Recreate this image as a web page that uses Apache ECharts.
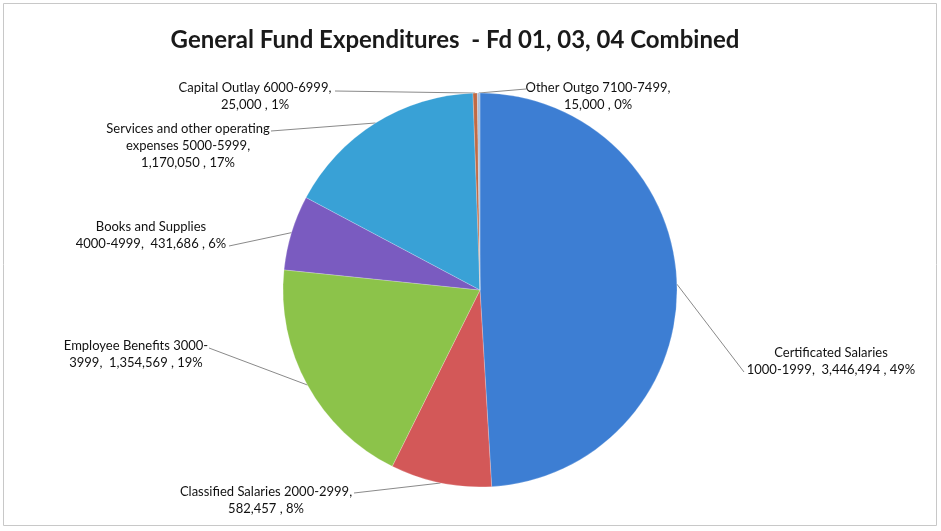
<!DOCTYPE html>
<html>
<head>
<meta charset="utf-8">
<script src="https://cdn.jsdelivr.net/npm/echarts@6/dist/echarts.min.js"></script>
<style>
html,body{margin:0;padding:0;background:#fff;}
#chart{width:941px;height:531px;}
</style>
</head>
<body>
<div id="chart"></div>
<script>
const titleText = 'General Fund Expenditures  - Fd 01, 03, 04 Combined';
const categories = [
  'Certificated Salaries 1000-1999',
  'Classified Salaries 2000-2999',
  'Employee Benefits 3000-3999',
  'Books and Supplies 4000-4999',
  'Services and other operating expenses 5000-5999',
  'Capital Outlay 6000-6999',
  'Other Outgo 7100-7499'
];
const values = [3446494, 582457, 1354569, 431686, 1170050, 25000, 15000];
const percentLabels = ['49%', '8%', '19%', '6%', '17%', '1%', '0%'];
const labelTexts = [
  'Certificated Salaries\n1000-1999,  3,446,494 , 49%',
  'Classified Salaries 2000-2999,\n582,457 , 8%',
  'Employee Benefits 3000-\n3999,  1,354,569 , 19%',
  'Books and Supplies\n4000-4999,  431,686 , 6%',
  'Services and other operating\nexpenses 5000-5999,\n1,170,050 , 17%',
  'Capital Outlay 6000-6999,\n25,000 , 1%',
  'Other Outgo 7100-7499,\n15,000 , 0%'
];
const colors = ['#3d7ed3', '#d35858', '#8cc34a', '#7a5bc0', '#39a1d6', '#c06a45', '#a9c0dc'];

// label placement (layout only): centre of text block and leader end point
const labelPlace = [
  {x: 831, y: 361, ex: 744, ey: 372},
  {x: 266, y: 500, ex: 354, ey: 493},
  {x: 136, y: 354, ex: 209, ey: 348},
  {x: 151, y: 235, ex: 229, ey: 246},
  {x: 188, y: 146, ex: 271, ey: 131},
  {x: 255, y: 96,  ex: 335, ey: 91},
  {x: 598, y: 96,  ex: 526, ey: 89}
];

const chart = echarts.init(document.getElementById('chart'));
chart.setOption({
  backgroundColor: '#ffffff',
  animation: false,
  title: {
    text: titleText,
    left: 450, top: 23, textAlign: 'center',
    textStyle: {fontFamily: 'Lato', fontWeight: 'bold', fontSize: 24, color: '#1a1a1a'}
  },
  graphic: [{
    type: 'rect', shape: {x: 3.5, y: 3.5, width: 933, height: 522},
    style: {fill: 'none', stroke: '#c8c8c8', lineWidth: 1}, silent: true
  }],
  series: [{
    type: 'pie',
    center: [480, 290],
    radius: 197,
    startAngle: 90,
    clockwise: true,
    avoidLabelOverlap: false,
    data: categories.map((c, i) => ({name: c, value: values[i], itemStyle: {color: colors[i]}})),
    itemStyle: {borderColor: 'rgba(255,255,255,0.35)', borderWidth: 0.6},
    label: {
      show: true,
      formatter: p => labelTexts[p.dataIndex],
      fontFamily: 'Lato', fontSize: 13, color: '#111', lineHeight: 17, align: 'center'
    },
    labelLine: {show: true, length: 10, length2: 10, lineStyle: {color: '#8a8a8a', width: 1}},
    labelLayout: function (params) {
      const lp = labelPlace[params.dataIndex];
      const pts = params.labelLinePoints;
      const start = pts ? pts[0] : [lp.ex, lp.ey];
      return {
        x: lp.x, y: lp.y, align: 'center', verticalAlign: 'middle',
        labelLinePoints: [start, [lp.ex, lp.ey], [lp.ex, lp.ey]]
      };
    },
    emphasis: {disabled: true}
  }]
});
</script>
</body>
</html>
